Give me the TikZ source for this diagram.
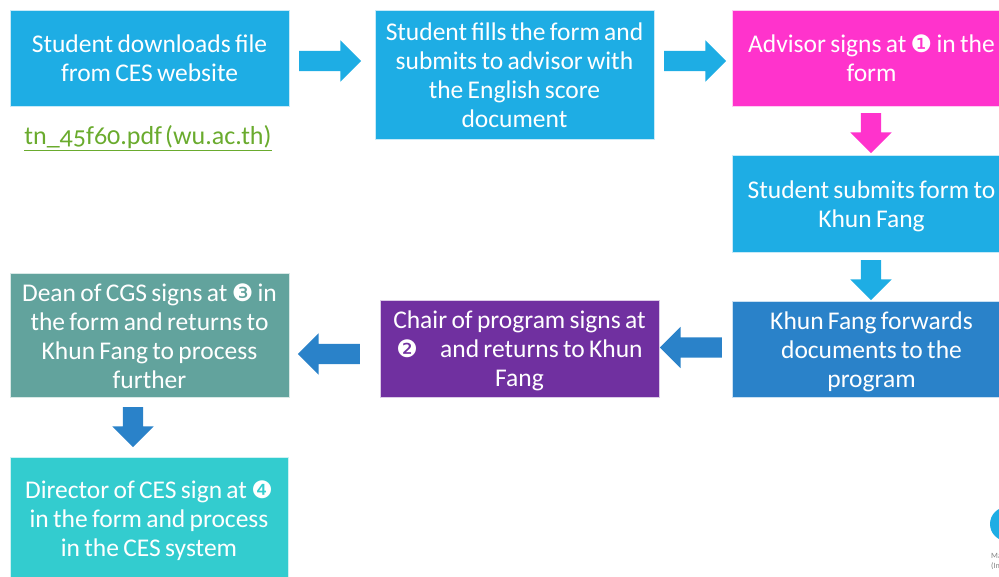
\documentclass[tikz,border=0pt]{standalone}
\usepackage{fontspec}
\setmainfont[WordSpace=0.75]{Carlito}
\newfontfamily\dingfont{DejaVu Sans}
\usetikzlibrary{shapes.arrows}
\definecolor{cblue}{HTML}{1EADE4}
\definecolor{cpink}{HTML}{FF33CC}
\definecolor{cdeep}{HTML}{2A82C9}
\definecolor{cpurple}{HTML}{7030A0}
\definecolor{cteal}{HTML}{62A39D}
\definecolor{ccyan}{HTML}{33CCCF}
\definecolor{clink}{HTML}{6AAB2E}
\newcommand{\dg}[1]{\smash{\dingfont\fontsize{24}{24}\selectfont #1}}
\newcommand{\nudge}[1]{\rule{0pt}{#1pt}}
\tikzset{
  x=1pt,y=-1pt,
  flowbox/.style={anchor=north west,inner sep=0pt,outer sep=0pt,text=white,align=flush center,
    text width=276pt,font=\fontsize{25.5}{29}\selectfont,draw=white!75!#1,line width=0.5pt,fill=#1},
  blockarrow/.style={single arrow,draw=none,fill=#1,inner xsep=0pt,inner ysep=10pt,outer sep=0pt,
    minimum width=41pt,minimum height=62pt,single arrow head extend=10.5pt,
    single arrow tip angle=90,anchor=center},
  vblockarrow/.style={blockarrow=#1,minimum height=40pt,rotate=-90},
}
\begin{document}
\begin{tikzpicture}
\useasboundingbox (0,0) rectangle (999,576);
\clip (0,0) rectangle (999,576);
\node[flowbox=cblue,minimum width=279pt,minimum height=96pt] (download) at (10,10)
  {Student downloads file\\from CES website};
\node[flowbox=cblue,minimum width=279pt,minimum height=129pt] (fills) at (375,10)
  {\nudge{19.5}Student fills the form and\\submits to advisor with\\the English score\\document};
\node[flowbox=cpink,minimum width=279pt,minimum height=96pt] (advisor) at (732,10)
  {Advisor signs at \dg{❶} in the\\form};
\node[flowbox=cblue,minimum width=279pt,minimum height=97pt] (submit) at (732,155)
  {\nudge{24}Student submits form to\\Khun Fang};
\node[flowbox=cdeep,minimum width=279pt,minimum height=96pt] (forward) at (732,301)
  {\nudge{24}Khun Fang forwards\\documents to the\\program};
\node[flowbox=cpurple,minimum width=279pt,minimum height=97pt] (chair) at (380,300)
  {\nudge{22.5}Chair of program signs at\\\dg{❷}\hspace{18pt} and returns to Khun\\Fang};
\node[flowbox=cteal,minimum width=279pt,minimum height=124pt] (dean) at (10,273)
  {\nudge{19.5}Dean of CGS signs at \dg{❸} in\\the form and returns to\\Khun Fang to process\\further};
\node[flowbox=ccyan,minimum width=278pt,minimum height=125pt] (director) at (10,457)
  {\nudge{20.5}Director of CES sign at \dg{❹}\\in the form and process\\in the CES system};
\node[anchor=center,inner sep=0pt,text=clink,font=\fontsize{26}{29}\selectfont\addfontfeature{Numbers=OldStyle}] (link) at (148,138)
  {\underline{tn\_45f60.pdf\hspace{3pt}(wu.ac.th)}};
\node[blockarrow=cblue] (a1) at (325,61) {};
\node[blockarrow=cblue] (a2) at (690,61) {};
\node[vblockarrow=cpink] (a3) at (871,128) {};
\node[vblockarrow=cblue] (a4) at (871,275) {};
\node[blockarrow=cdeep,rotate=180] (a5) at (696,347.5) {};
\node[blockarrow=cdeep,rotate=180] (a6) at (334,354) {};
\node[vblockarrow=cdeep] (a7) at (133,422) {};
\node[circle,fill=cblue,minimum size=34pt,inner sep=0pt] (logo) at (1007,524) {};
\node[anchor=west,inner sep=0pt,text=gray,font=\fontsize{8}{10}\selectfont,align=left] (logotext) at (991,561)
  {Ma\\(In};
\end{tikzpicture}
\end{document}
